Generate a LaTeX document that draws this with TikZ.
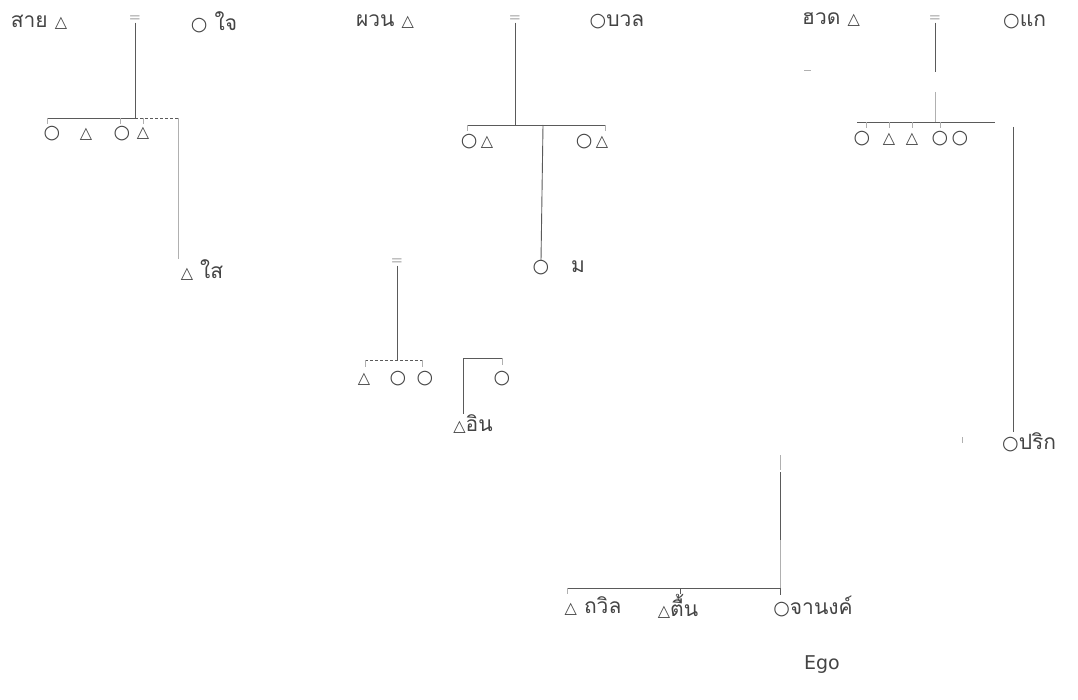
\documentclass[tikz,border=0pt]{standalone}
\usepackage{fontspec}
\newfontfamily\thaifont[Script=Thai]{Loma}
\newfontfamily\symfont{DejaVu Sans}
\definecolor{ink}{HTML}{444444}
\definecolor{lineink}{HTML}{5A5A5A}
\definecolor{faint}{HTML}{B0B0B0}
\newcommand\femsym{{\symfont\fontsize{19}{22}\selectfont ○}}
\newcommand\malsym{{\symfont\fontsize{16}{20}\selectfont △}}
\tikzset{
  lbl/.style={inner sep=0pt, text=ink, font=\thaifont\fontsize{21}{24}\selectfont},
  marry/.style={inner sep=0pt, text=faint, font=\symfont\fontsize{15}{16}\selectfont},
  kin/.style={draw=lineink, line width=0.9pt},
  kinfaint/.style={draw=faint, line width=0.8pt},
  kindash/.style={draw=lineink, line width=0.8pt, dash pattern=on 3pt off 2pt},
}
\begin{document}
\begin{tikzpicture}[x=1pt,y=-1pt]
\useasboundingbox (0,0) rectangle (1078,700);

% ---------- family of สาย and ใจ ----------
\node[lbl] (p1m) at (39,22) {สาย \malsym};
\node[marry] (eq1) at (135,19) {=};
\node[lbl] (p1f) at (214,22) {\femsym\ ใจ};
\coordinate (b1l) at (47,118);
\coordinate (b1r) at (178,118);
\coordinate (b1m) at (135,118);
\draw[kin] (eq1.south) -- (b1m);
\draw[kin] (b1l) -- (b1m);
\draw[kindash] (b1m) -- (b1r);
\node[lbl] (c1a) at (52,134) {\femsym};
\node[lbl] (c1b) at (86,134) {\malsym};
\node[lbl] (c1c) at (122,134) {\femsym};
\node[lbl] (c1d) at (143,133) {\malsym};
\draw[kinfaint] (b1l) -- ++(0,6);
\draw[kinfaint] (b1l -| c1c) ++(-2,0) -- ++(0,6);
\draw[kinfaint] (b1l -| c1d) -- ++(0,6);
\node[lbl] (s1) at (202,270) {\malsym\ ใส};
\draw[kinfaint] (b1r) -- (b1r |- s1.north);

% ---------- family of ผวน and บวล ----------
\node[lbl] (p2m) at (385,22) {ผวน \malsym};
\node[marry] (eq2) at (515,19) {=};
\node[lbl] (p2f) at (617,22) {\femsym บวล};
\coordinate (b2l) at (467,125);
\coordinate (b2r) at (605,125);
\coordinate (b2m) at (515,125);
\coordinate (b2d) at (543,125);
\draw[kin] (eq2.south) -- (b2m);
\draw[kin] (b2l) -- (b2r);
\draw[kinfaint] (b2l) -- ++(0,6);
\draw[kinfaint] (b2r) -- ++(0,6);
\node[lbl] (c2a) at (477,142) {\femsym\,\malsym};
\node[lbl] (c2b) at (592,142) {\femsym\,\malsym};
\node[lbl] (s2) at (541,268) {\femsym};
\node[lbl] (s2n) at (578,267) {ม};
\draw[kin] (b2d) -- (s2.north);

% ---------- household of อิน ----------
\node[marry] (eq3) at (397,262) {=};
\coordinate (b3l) at (365,360);
\coordinate (b3r) at (422,360);
\coordinate (b3m) at (397,360);
\draw[kin] (eq3.south) -- (b3m);
\draw[kindash] (b3l) -- (b3r);
\draw[kinfaint] (b3l) -- ++(0,7);
\draw[kinfaint] (b3r) -- ++(0,7);
\node[lbl] (c3a) at (364,379) {\malsym};
\node[lbl] (c3b) at (398,379) {\femsym};
\node[lbl] (c3c) at (425,379) {\femsym};
\coordinate (b4l) at (463,358);
\coordinate (b4r) at (502,358);
\draw[kin] (b4l) -- (b4r);
\draw[kinfaint] (b4r) -- ++(0,7);
\node[lbl] (c4a) at (502,379) {\femsym};
\node[lbl] (s3) at (473,424) {\malsym อิน};
\draw[kin] (b4l) -- (b4l |- s3.north);

% ---------- family of ฮวด and แก ----------
\node[lbl] (p3m) at (831,20) {ฮวด \malsym};
\node[marry] (eq4) at (935,19) {=};
\node[lbl, anchor=west] (p3f) at (1003,22) {\femsym แก};
\draw[faint, line width=0.8pt] (804,70) -- (811,70);
\coordinate (b5l) at (857,122);
\coordinate (b5r) at (995,122);
\coordinate (b5m) at (935,122);
\draw[kin] (eq4.south) -- (935,72);
\draw[kinfaint] (935,92) -- (b5m);
\draw[kin] (b5l) -- (b5r);
\foreach \tx in {866,889,912,940} \draw[kinfaint] (\tx,122) -- ++(0,6);
\node[lbl] (c5a) at (862,139) {\femsym};
\node[lbl] (c5b) at (889,139) {\malsym};
\node[lbl] (c5c) at (912,139) {\malsym};
\node[lbl] (c5d) at (940,139) {\femsym};
\node[lbl] (c5e) at (960,139) {\femsym};
\node[lbl, anchor=west] (s4) at (1002,442) {\femsym ปริก};
\coordinate (d5) at (1013,127);
\draw[kin] (d5) -- (d5 |- s4.north);
\draw[faint, line width=0.7pt] (962,437) -- (962,443);

% ---------- sibling set of Ego ----------
\coordinate (t6) at (780,455);
\coordinate (b6l) at (567,588);
\coordinate (b6m) at (680,588);
\coordinate (b6r) at (780,588);
\draw[kinfaint] (t6) -- ++(0,15);
\draw[kin] (780,472) -- (780,540);
\draw[kinfaint] (780,540) -- (b6r);
\draw[kin] (b6l) -- (b6r);
\draw[kinfaint] (b6l) -- ++(0,6);
\draw[kin] (b6m) -- ++(0,6);
\draw[kin] (b6r) -- ++(0,7);
\node[lbl] (e1) at (593,606) {\malsym\ ถวิล};
\node[lbl] (e2) at (678,606) {\malsym ตื้น};
\node[lbl] (ego) at (813,606) {\femsym จานงค์};
\node[lbl, font=\symfont\fontsize{19}{22}\selectfont] (egot) at (822,665) {Ego};
\end{tikzpicture}
\end{document}
